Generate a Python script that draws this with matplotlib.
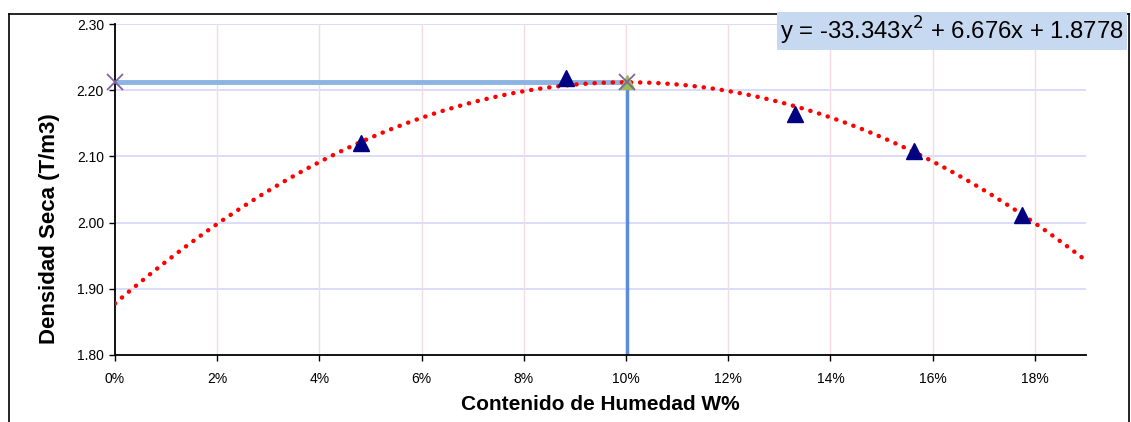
import matplotlib
matplotlib.use("Agg")
import matplotlib.pyplot as plt
import numpy as np
from matplotlib.lines import Line2D
from matplotlib.ticker import FuncFormatter

plt.rcParams['font.family'] = ['Liberation Sans', 'DejaVu Sans']

# Data points (moisture content, dry density)
humedad = [0.0481, 0.0883, 0.1331, 0.1564, 0.1775]
densidad = [2.120, 2.218, 2.164, 2.108, 2.011]

# Trendline coefficients (as displayed in chart)
coef = [-33.343, 6.676, 1.8778]
eq_text = "y = -33.343x$^{2}$ + 6.676x + 1.8778"

# Optimum from the trendline
x_opt = -coef[1] / (2 * coef[0])
y_opt = np.polyval(coef, x_opt)

x_ticks = [0, 0.02, 0.04, 0.06, 0.08, 0.10, 0.12, 0.14, 0.16, 0.18]
y_ticks = [1.80, 1.90, 2.00, 2.10, 2.20, 2.30]

fig = plt.figure(figsize=(11.31, 4.22), dpi=100)
ax = fig.add_axes([115/1131, 1-355/422, (1086-115)/1131, (355-24)/422])

ax.set_xlim(0, 0.19)
ax.set_ylim(1.80, 2.30)
ax.set_xticks(x_ticks)
ax.set_yticks(y_ticks)
ax.xaxis.set_major_formatter(FuncFormatter(lambda v, p: f"{v*100:.0f}%"))
ax.yaxis.set_major_formatter(FuncFormatter(lambda v, p: f"{v:.2f}"))

# gridlines
for yv in y_ticks[1:]:
    ax.axhline(yv, color='#d4d4fa', lw=1.2, zorder=0)
for xv in x_ticks[1:]:
    ax.axvline(xv, color='#f2dcdf', lw=1.0, zorder=0)

for s in ['top', 'right']:
    ax.spines[s].set_visible(False)
for s in ['left', 'bottom']:
    ax.spines[s].set_color('black')
    ax.spines[s].set_linewidth(1.3)
ax.tick_params(axis='both', labelsize=10, length=4, width=1, color='black', pad=4)
ax.tick_params(axis='x', pad=8)

# optimum guide lines
ax.plot([0, x_opt], [y_opt, y_opt], color='#8db3e2', lw=3.5, zorder=2, solid_capstyle='butt')
ax.plot([x_opt, x_opt], [1.80, y_opt], color='#5b8ed6', lw=2.5, zorder=2, solid_capstyle='butt')

# trendline
xs = np.linspace(0, 0.19, 400)
ax.plot(xs, np.polyval(coef, xs), color='#ff0000', lw=3.2,
        linestyle=(0, (0.05, 2.0)), dash_capstyle='round', zorder=3)

# data points
ax.plot(humedad, densidad, linestyle='none', marker='^', color='#000080',
        markersize=11, zorder=4, clip_on=False)

# optimum markers
ax.plot([x_opt], [y_opt], marker='^', color='#9bbb59', markersize=10,
        linestyle='none', zorder=5, clip_on=False)
ax.plot([0, x_opt], [y_opt, y_opt], marker='x', color='#8064a2', markersize=11,
        markeredgewidth=1.3, linestyle='none', zorder=6, clip_on=False)

ax.set_xlabel("Contenido de Humedad W%", fontsize=15, fontweight='bold', labelpad=7)
ax.set_ylabel("Densidad Seca (T/m3)", fontsize=16, fontweight='bold')
ax.yaxis.set_label_coords((60-115)/971, (355-229)/331)

# equation box
fig.text(1124/1131, 1-31/422, eq_text, fontsize=17.2, ha='right', va='center',
         bbox=dict(boxstyle='square,pad=0.12', facecolor='#c6d9f0', edgecolor='none'))

# outer frame
fig.add_artist(Line2D([9/1131, 9/1131], [0, 1-14/422], color='black', lw=1.2))
fig.add_artist(Line2D([9/1131, 1129/1131], [1-14/422, 1-14/422], color='black', lw=1.2))
fig.add_artist(Line2D([1129/1131, 1129/1131], [0, 1-14/422], color='black', lw=1.2))

fig.savefig("out.png", dpi=100)
